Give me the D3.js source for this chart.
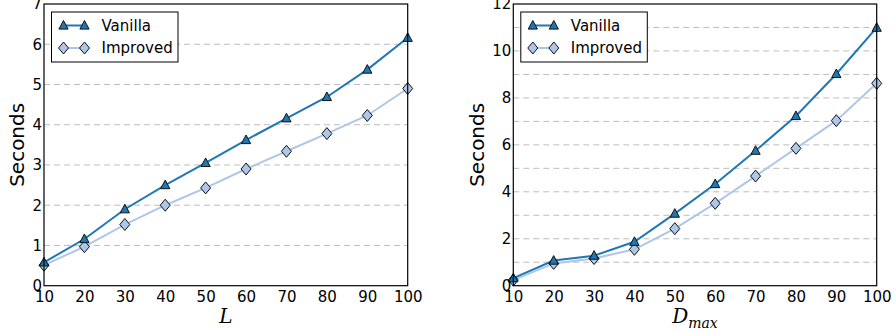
<!DOCTYPE html>
<html>
<head>
<meta charset="utf-8">
<script src="https://cdn.jsdelivr.net/npm/d3@7"></script>
<style>
  body { margin: 0; background: #fff; }
  svg { display: block; font-family: "DejaVu Sans", sans-serif; }
</style>
</head>
<body>
<svg id="chart" width="896" height="334"></svg>
<script>
// x values shared by both panels
const xValues = [10, 20, 30, 40, 50, 60, 70, 80, 90, 100];

// left panel: varying L
const vanillaL  = [0.58, 1.16, 1.9, 2.5, 3.05, 3.62, 4.16, 4.69, 5.37, 6.16];
const improvedL = [0.51, 0.97, 1.52, 2.0, 2.43, 2.9, 3.34, 3.78, 4.23, 4.9];

// right panel: varying D_max
const vanillaD  = [0.32, 1.07, 1.28, 1.87, 3.07, 4.33, 5.75, 7.23, 9.02, 10.99];
const improvedD = [0.24, 0.95, 1.16, 1.55, 2.43, 3.51, 4.67, 5.85, 7.03, 8.62];

const seriesNames = ["Vanilla", "Improved"];
const leftYTicks = [0, 1, 2, 3, 4, 5, 6, 7];
const rightYTicks = [0, 2, 4, 6, 8, 10, 12];

const colVanilla = "#1f77b4";
const colImproved = "#aec7e8";

const svg = d3.select("#chart");

function marker(sel, type, fill) {
  if (type === "tri") {
    sel.append("path").attr("d", "M0,-5L4.6,3.6L-4.6,3.6Z")
      .attr("fill", fill).attr("stroke", "#111").attr("stroke-width", 1);
  } else {
    sel.append("path").attr("d", "M0,-6L5,0L0,6L-5,0Z")
      .attr("fill", fill).attr("stroke", "#111").attr("stroke-width", 1);
  }
}

function panel(opts) {
  const { left, right, top, bottom, yMax, yTicks, gridStep, vanilla, improved, xlabel, ylabelX } = opts;
  const x = d3.scaleLinear().domain([10, 100]).range([left, right]);
  const y = d3.scaleLinear().domain([0, yMax]).range([bottom, top]);
  const g = svg.append("g");

  // grid
  g.append("g").selectAll("line")
    .data(d3.range(gridStep, yMax, gridStep))
    .join("line")
    .attr("x1", left).attr("x2", right)
    .attr("y1", d => y(d)).attr("y2", d => y(d))
    .attr("stroke", "#bdbdbd").attr("stroke-width", 1)
    .attr("stroke-dasharray", "6,4");

  // lines
  const line = d3.line().x((d, i) => x(xValues[i])).y(d => y(d));
  const series = [
    { vals: improved, color: colImproved, type: "dia" },
    { vals: vanilla, color: colVanilla, type: "tri" }
  ];
  series.forEach(s => {
    g.append("path").datum(s.vals)
      .attr("d", line).attr("fill", "none")
      .attr("stroke", s.color).attr("stroke-width", 2);
  });
  series.forEach(s => {
    g.append("g").selectAll("g")
      .data(s.vals)
      .join("g")
      .attr("transform", (d, i) => `translate(${x(xValues[i])},${y(d)})`)
      .each(function () { marker(d3.select(this), s.type, s.color); });
  });

  // frame
  g.append("rect")
    .attr("x", left).attr("y", top)
    .attr("width", right - left).attr("height", bottom - top)
    .attr("fill", "none").attr("stroke", "#000").attr("stroke-width", 1.2);

  // axes labels via d3 axes (ticks hidden)
  const xAxis = g.append("g").attr("transform", `translate(0,${bottom})`)
    .call(d3.axisBottom(x).tickValues(xValues).tickSize(0).tickPadding(6));
  xAxis.select(".domain").remove();
  xAxis.selectAll("text").attr("font-size", 15).attr("font-family", "DejaVu Sans").attr("fill", "#000");

  const yAxis = g.append("g").attr("transform", `translate(${left},0)`)
    .call(d3.axisLeft(y).tickValues(yTicks).tickFormat(d3.format("d")).tickSize(0).tickPadding(2));
  yAxis.select(".domain").remove();
  yAxis.selectAll("text").attr("font-size", 15).attr("font-family", "DejaVu Sans").attr("fill", "#000");

  // y label
  g.append("text")
    .attr("transform", `translate(${ylabelX},${(top + bottom) / 2}) rotate(-90)`)
    .attr("text-anchor", "middle").attr("dominant-baseline", "central")
    .attr("font-size", 20).text("Seconds");

  // x label
  const xl = g.append("text")
    .attr("x", (left + right) / 2).attr("y", 323)
    .attr("text-anchor", "middle")
    .attr("font-family", "DejaVu Serif").attr("font-style", "italic")
    .attr("font-size", 20);
  xl.append("tspan").text(xlabel[0]);
  if (xlabel[1]) xl.append("tspan").attr("dy", 5).attr("font-size", 14).text(xlabel[1]);

  // legend
  const lx = left + 7.5, ly = top + 8;
  const leg = g.append("g");
  leg.append("rect").attr("x", lx).attr("y", ly).attr("width", 126.5).attr("height", 50)
    .attr("fill", "#fff").attr("stroke", "#000").attr("stroke-width", 1);
  [
    { name: seriesNames[0], color: colVanilla, type: "tri", yy: ly + 13.5 },
    { name: seriesNames[1], color: colImproved, type: "dia", yy: ly + 36 }
  ].forEach(e => {
    leg.append("line").attr("x1", lx + 12).attr("x2", lx + 33)
      .attr("y1", e.yy).attr("y2", e.yy)
      .attr("stroke", e.color).attr("stroke-width", 2);
    [lx + 12, lx + 33].forEach(mx => {
      marker(leg.append("g").attr("transform", `translate(${mx},${e.yy})`), e.type, e.color);
    });
    leg.append("text").attr("x", lx + 50).attr("y", e.yy)
      .attr("dominant-baseline", "central").attr("font-size", 15).text(e.name);
  });
}

panel({ left: 44, right: 407.7, top: 4, bottom: 285.7, yMax: 7, yTicks: leftYTicks, gridStep: 1,
  vanilla: vanillaL, improved: improvedL, xlabel: ["L"], ylabelX: 17 });
panel({ left: 513.3, right: 876.7, top: 4, bottom: 285.7, yMax: 12, yTicks: rightYTicks, gridStep: 1,
  vanilla: vanillaD, improved: improvedD, xlabel: ["D", "max"], ylabelX: 477 });
</script>
</body>
</html>
